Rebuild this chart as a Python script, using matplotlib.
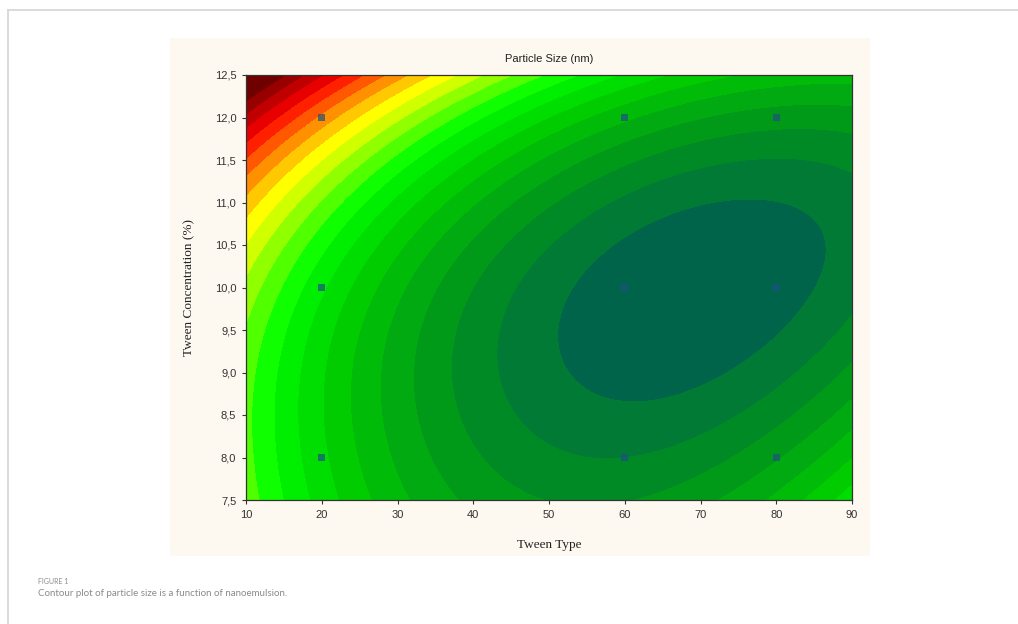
import numpy as np
import matplotlib
matplotlib.use("Agg")
import matplotlib.pyplot as plt
from matplotlib.colors import ListedColormap, BoundaryNorm
from matplotlib.patches import Rectangle
from matplotlib.lines import Line2D

# ---- data ----
# contour-boundary positions
# (x = Tween type, y = Tween concentration, lvl = contour level index)
read_x = [49.3, 50.8, 54.9, 61.0, 68.7, 75.8, 82.4, 86.0, 86.5, 84.0,
          78.9, 71.2, 63.6, 55.9, 50.8,
          60.0, 60.0,
          84.0, 76.3, 68.7, 63.6, 58.0, 52.3, 47.8, 43.2, 38.6, 34.0,
          31.4, 27.9, 25.3, 21.7, 19.2, 16.6, 13.1,
          10, 10, 10, 10, 10, 10, 10, 10, 10, 10, 10, 10, 10, 10,
          11.0, 15.1, 19.2, 23.8, 28.9, 34.0, 41.6, 50.3, 71.2, 77.9,
          82.4, 85.0, 87.0, 88.6,
          90, 90, 90, 90, 90, 90, 90, 90, 90,
          12.0, 15.6, 19.7, 24.3, 28.4, 32.4, 36.5, 40.1, 43.2, 46.7]
read_y = [9.36, 9.95, 10.30, 10.66, 10.97, 11.05, 10.93, 10.66, 10.38, 9.95,
          9.44, 8.97, 8.77, 8.85, 9.05,
          8.15, 11.2,
          12.5, 12.5, 12.5, 12.5, 12.5, 12.5, 12.5, 12.5, 12.5, 12.5,
          12.5, 12.5, 12.5, 12.5, 12.5, 12.5, 12.5,
          12.26, 12.11, 11.87, 11.64, 11.32, 11.09, 10.89, 10.74, 10.58,
          10.23, 9.83, 9.40, 8.89, 7.72,
          7.5, 7.5, 7.5, 7.5, 7.5, 7.5, 7.5, 7.5, 7.5, 7.5,
          7.5, 7.5, 7.5, 7.5,
          12.34, 11.91, 11.32, 9.17, 8.74, 8.38, 8.15, 7.95, 7.79,
          10, 10, 10, 10, 10, 10, 10, 10, 10, 10]
read_lvl = [1, 1, 1, 1, 1, 1, 1, 1, 1, 1,
            1, 1, 1, 1, 1,
            2, 2,
            5, 6, 7, 8, 9, 10, 11, 12, 13, 14,
            15, 16, 17, 18, 19, 20, 21,
            21, 20, 19, 18, 17, 16, 15, 14, 13, 12, 11, 10, 9, 10,
            10, 9, 8, 7, 6, 5, 4, 3, 3, 4,
            5, 6, 7, 8,
            4, 3, 2, 2, 3, 4, 5, 6, 7,
            11, 10, 9, 8, 7, 6, 5, 4, 3, 2]
# how firmly each reading is trusted (the central ellipse is the clearest)
n_ellipse, n_ring = 15, 2
read_weight = [25] * n_ellipse + [2] * n_ring + [1] * (len(read_x) - n_ellipse - n_ring)

x_range = [10, 90]
y_range = [7.5, 12.5]

design_x = [20, 20, 20, 60, 60, 60, 80, 80, 80]
design_y = [12, 10, 8, 12, 10, 8, 12, 10, 8]

levels = [-20, 1, 2, 3, 4, 5, 6, 7, 8, 9, 10, 11, 12, 13, 14, 15,
          16, 17, 18, 19, 20, 21, 60]
band_colors = ["#00644a", "#007a35", "#008a25", "#009a18", "#00aa10",
               "#00bb08", "#00cc00", "#00dd00", "#00ee00", "#10ff00",
               "#50ff00", "#90ff00", "#d0ff00", "#ffff00", "#ffc800",
               "#ff9000", "#ff5800", "#ff2000", "#e80000", "#c00000",
               "#980000", "#700000"]

x_ticks = [10, 20, 30, 40, 50, 60, 70, 80, 90]
y_ticks = [7.5, 8.0, 8.5, 9.0, 9.5, 10.0, 10.5, 11.0, 11.5, 12.0, 12.5]
y_tick_labels = ["7,5", "8,0", "8,5", "9,0", "9,5", "10,0", "10,5",
                 "11,0", "11,5", "12,0", "12,5"]


def design(x, y):
    u = (np.asarray(x, float) - 50) / 40
    v = (np.asarray(y, float) - 10) / 2.5
    one = np.ones_like(u)
    return np.stack([one, u, v, u * u, v * v, u * v,
                     u ** 3, v ** 3, u * u * v, u * v * v], axis=-1)


# smooth response surface fitted (weighted least squares) to the readings
w = np.sqrt(np.asarray(read_weight, float))
A = design(read_x, read_y) * w[:, None]
b = np.asarray(read_lvl, float) * w
coef, *_ = np.linalg.lstsq(A, b, rcond=None)

# ---- figure ----
W, H = 1018, 624
fig = plt.figure(figsize=(W / 100, H / 100), dpi=100)
fig.patch.set_facecolor("white")

fig.add_artist(Line2D([8 / W, 1.0], [1 - 10 / H, 1 - 10 / H], color="#d4d4d4", lw=1.2))
fig.add_artist(Line2D([8 / W, 8 / W], [0, 1 - 10 / H], color="#d4d4d4", lw=1.2))

fig.add_artist(Rectangle((170 / W, 1 - 556 / H), 700 / W, 518 / H,
                         facecolor="#fdf9f0", edgecolor="none", zorder=0))

ax = fig.add_axes([246 / W, 1 - 500 / H, 606 / W, 425 / H])

xs = np.linspace(x_range[0], x_range[1], 400)
ys = np.linspace(y_range[0], y_range[1], 400)
X, Y = np.meshgrid(xs, ys)
Z = design(X, Y) @ coef

cmap = ListedColormap(band_colors)
norm = BoundaryNorm(levels, cmap.N)
ax.contourf(X, Y, Z, levels=levels, cmap=cmap, norm=norm)

ax.scatter(design_x, design_y, s=24, marker="s", color="#1f4f86",
           alpha=0.7, edgecolors="none", zorder=3)

ax.set_xlim(x_range)
ax.set_ylim(y_range)
ax.set_xticks(x_ticks)
ax.set_xticklabels([str(t) for t in x_ticks])
ax.set_yticks(y_ticks)
ax.set_yticklabels(y_tick_labels)
ax.tick_params(labelsize=8, length=3, width=0.8, colors="#333333",
               direction="out", pad=4)
for lab in ax.get_xticklabels() + ax.get_yticklabels():
    lab.set_fontfamily("Liberation Sans")
for sp in ax.spines.values():
    sp.set_color("#333333")
    sp.set_linewidth(0.9)

ax.set_title("Particle Size (nm)", fontsize=8, family="Liberation Sans",
             color="#222222", pad=9)
ax.set_xlabel("Tween Type", fontsize=9.5, family="Liberation Serif",
              color="#222222", labelpad=14)
ax.set_ylabel("Tween Concentration (%)", fontsize=9.5, family="Liberation Serif",
              color="#222222", labelpad=14)

fig.text(38 / W, 1 - 581 / H, "FIGURE 1", fontsize=5, color="#8a8a8a",
         family="Lato", va="center")
fig.text(38 / W, 1 - 594 / H, "Contour plot of particle size is a function of nanoemulsion.",
         fontsize=7, color="#8a8a8a", family="Lato", va="center")

fig.savefig("out.png", dpi=100, facecolor="white")
